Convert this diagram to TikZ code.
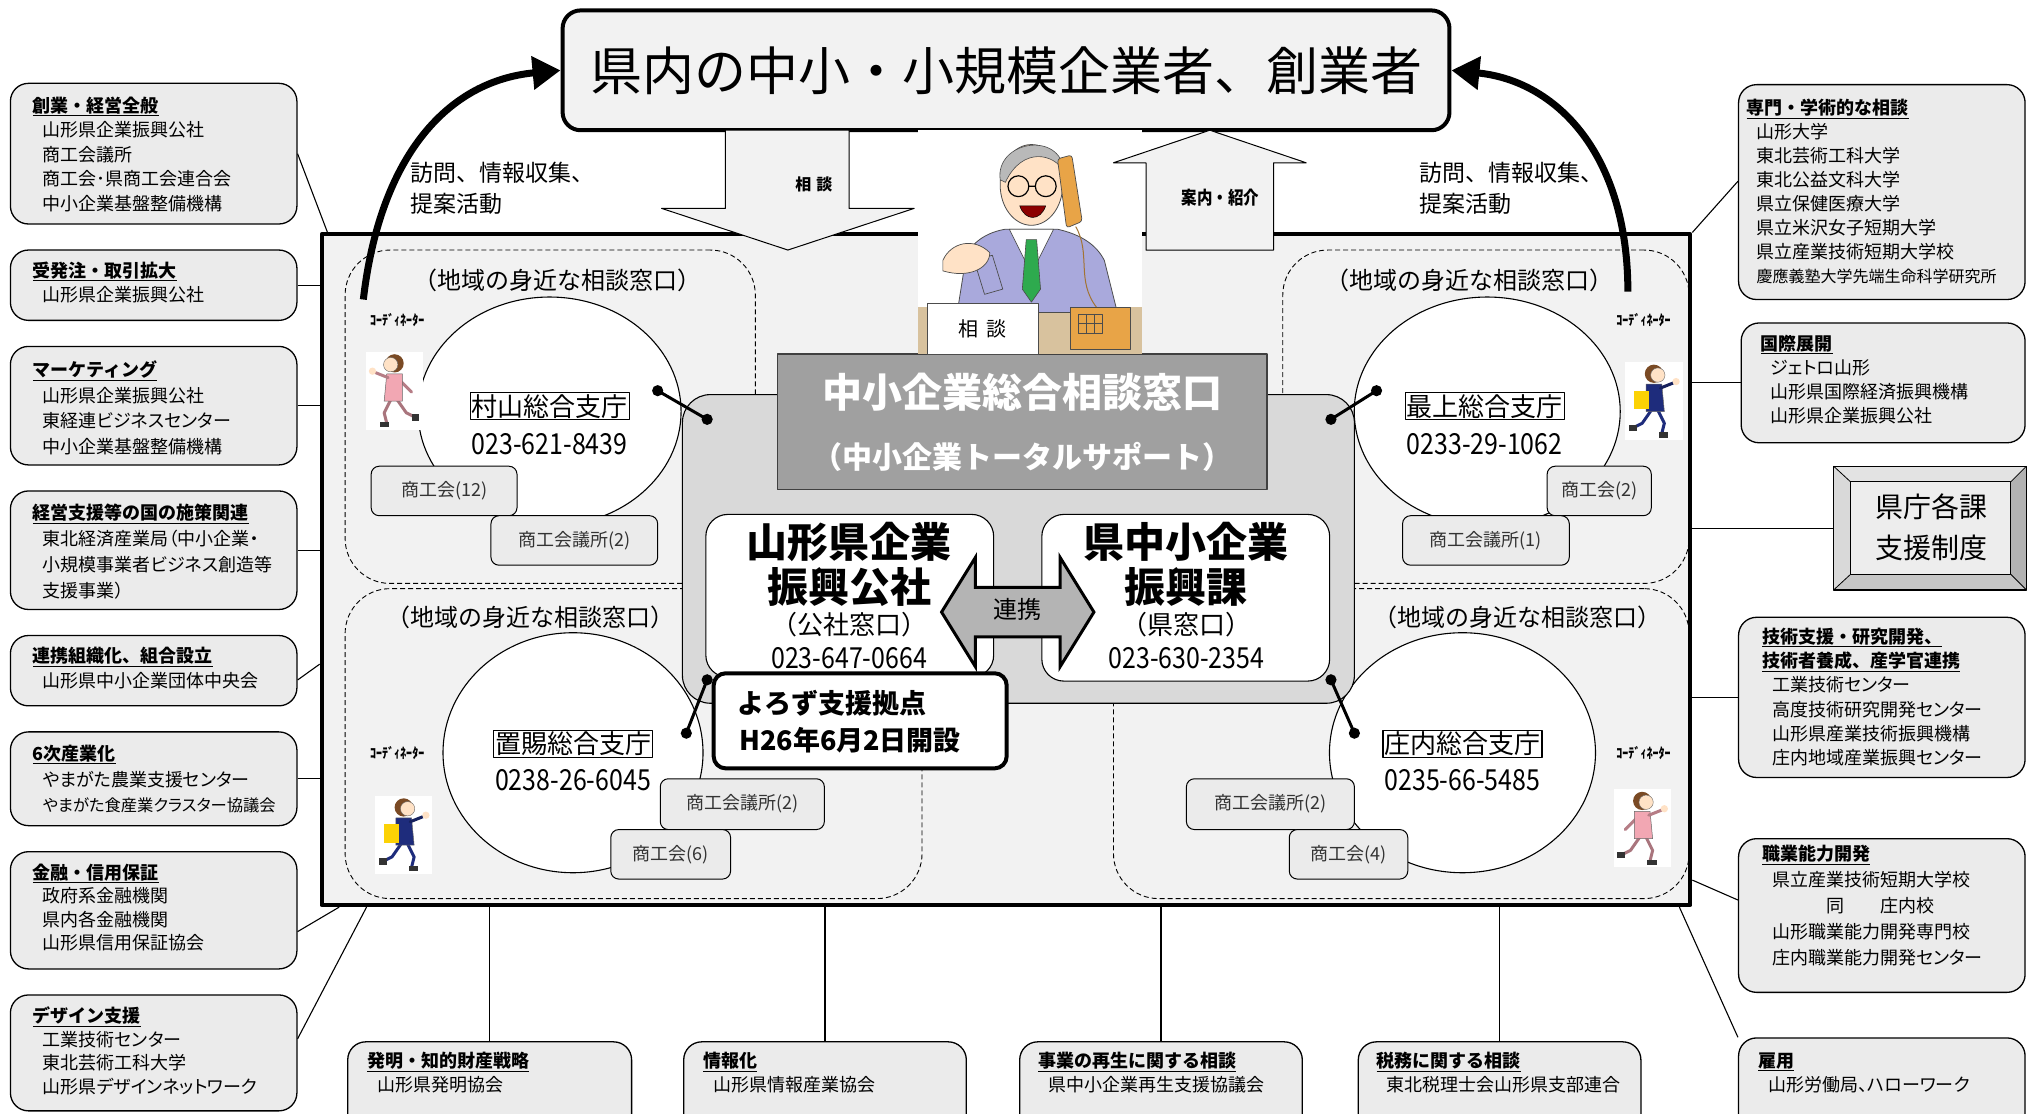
\documentclass[tikz,border=0pt]{standalone}
\usepackage{fontspec}
\setmainfont{Noto Sans CJK JP}
\newfontfamily\jpp{Noto Sans CJK JP}[RawFeature=+palt]
\newfontfamily\jpc{Noto Sans CJK JP}[FakeStretch=0.86]
\usetikzlibrary{fit,calc,arrows.meta,shapes.geometric}
\definecolor{boxgray}{HTML}{EBEBEB}
\definecolor{framegray}{HTML}{F2F2F2}
\definecolor{hubgray}{HTML}{D9D9D9}
\definecolor{deskgray}{HTML}{A0A0A0}
\definecolor{linkgray}{HTML}{B4B4B4}
\definecolor{skin}{HTML}{FFE2C6}
\definecolor{suitblue}{HTML}{A9A9DC}
\definecolor{tiegreen}{HTML}{2EAA4E}
\definecolor{handset}{HTML}{E8A447}
\definecolor{desktan}{HTML}{D8C29E}
\definecolor{pinksuit}{HTML}{F2A7B3}
\definecolor{navysuit}{HTML}{1E2C7C}
\definecolor{hairbrown}{HTML}{7A4A24}
\newcommand\fsz[2]{\fontsize{#1pt}{#2pt}\selectfont}
\newcommand\ind{\hspace*{10pt}}
\newcommand\hd[1]{\underline{{\rmfamily\bfseries #1}}}
% small running coordinator figure: x, y, facing, suit, hair, legs
\newcommand\runner[6]{%
 \begin{scope}[shift={(#1,#2)}]
  \fill[white] (0,0) rectangle (44,60);
  \begin{scope}[shift={(22,0)}, xscale=#3]
   \draw[#4!75!black, line width=3pt, line cap=round] (-3,21) -- (-13,31);
   \draw[#6, line width=3pt, line cap=round] (-2,37) -- (-9,47) -- (-15,50);
   \draw[#6, line width=3pt, line cap=round] (3,37) -- (8,47) -- (6,55);
   \fill[black!80] (-19,48) rectangle (-13,53);
   \fill[black!80] (4,54) rectangle (11,58);
   \filldraw[fill=#4, draw=black!60, line width=0.5pt] (-6,17) -- (6,17) -- (8,38) -- (-6,38) -- cycle;
   \draw[#4!75!black, line width=3pt, line cap=round] (5,20) -- (15,16);
   \fill[skin] (17,15) circle[radius=2.8];
   \fill[#5] (0,9) circle[radius=7];
   \filldraw[fill=skin, draw=black!60, line width=0.4pt] (3,10) circle[radius=5.5];
  \end{scope}
 \end{scope}}
\begin{document}
\begin{tikzpicture}[x=1.3023pt, y=-1.3023pt, line join=round,
  sidebox/.style={draw, line width=1.3pt, rounded corners=18pt, fill=boxgray, inner sep=0pt},
  sidetext/.style={anchor=north west, align=left, inner sep=0pt, font=\jpp\fsz{18}{24.5}},
  region/.style={draw, dash pattern=on 5pt off 3pt, line width=0.9pt, rounded corners=45pt, inner sep=0pt},
  ward/.style={ellipse, draw, fill=white, line width=1.1pt, inner sep=0pt},
  wardname/.style={draw, line width=1.1pt, inner sep=1.5pt, fill=white, font=\fsz{26}{28}},
  phone/.style={inner sep=0pt, font=\jpc\fsz{29}{30}},
  chip/.style={draw, line width=1pt, rounded corners=8pt, fill=boxgray, inner sep=0pt},
  chiptext/.style={inner sep=0pt, font=\fsz{18}{20}, text=black!80},
  link/.style={line width=1.1pt},
  dotlink/.style={line width=3pt},
  bigarrow/.style={draw, line width=1pt, fill=framegray},
  sweep/.style={line width=7pt, -{Triangle[length=28pt,width=32pt]}},
  coord/.style={inner sep=0pt, font=\jpc\bfseries\fsz{14}{14}},
  regionlabel/.style={inner sep=0pt, font=\fsz{24}{26}}]

\useasboundingbox (0,0) rectangle (1568,855);
\fill[white] (0,0) rectangle (1568,855);

% ---------- main frame ----------
\node[fit={(247,180) (1298,695)}, draw, line width=4pt, fill=framegray, inner sep=0pt] (frame) {};

% ---------- four regional areas ----------
\node[region, fit={(265,192) (580,448)}] (rgA) {};
\node[region, fit={(265,452) (708,690)}] (rgB) {};
\node[region, fit={(985,192) (1297,448)}] (rgC) {};
\node[region, fit={(855,452) (1297,690)}] (rgD) {};
\node[regionlabel] (lbA) at (428,215) {（地域の身近な相談窓口）};
\node[regionlabel] (lbC) at (1128,215) {（地域の身近な相談窓口）};
\node[regionlabel] (lbB) at (407,474) {（地域の身近な相談窓口）};
\node[regionlabel] (lbD) at (1165,474) {（地域の身近な相談窓口）};

% ---------- branch offices ----------
\node[ward, minimum width=263pt, minimum height=229pt] (wMura) at (422,316) {};
\node[ward, minimum width=266pt, minimum height=229pt] (wMoga) at (1142,316) {};
\node[ward, minimum width=260pt, minimum height=240pt] (wOki) at (440,578) {};
\node[ward, minimum width=266pt, minimum height=240pt] (wSho) at (1123,578) {};

\node[wardname] (nMura) at (422,312) {村山総合支庁};
\node[phone] (pMura) at (422,341) {023-621-8439};
\node[wardname] (nMoga) at (1140,312) {最上総合支庁};
\node[phone] (pMoga) at (1140,341) {0233-29-1062};
\node[wardname] (nOki) at (440,571) {置賜総合支庁};
\node[phone] (pOki) at (440,599) {0238-26-6045};
\node[wardname] (nSho) at (1123,571) {庄内総合支庁};
\node[phone] (pSho) at (1123,599) {0235-66-5485};

\foreach \nm/\ax/\ay/\bx/\by/\txt in {
  c1/285/358/397/396/商工会(12),
  c2/377/396/505/434/商工会議所(2),
  c3/1188/358/1268/396/商工会(2),
  c4/1077/396/1205/434/商工会議所(1),
  c5/507/598/633/637/商工会議所(2),
  c6/469/637/561/675/商工会(6),
  c7/911/598/1040/637/商工会議所(2),
  c8/990/637/1081/675/商工会(4)} {
  \node[chip, fit={(\ax,\ay) (\bx,\by)}] (\nm) {};
  \node[chiptext] at (\nm.center) {\txt};
}

% ---------- coordinators ----------
\node[coord] (coA) at (305,246) {ｺｰﾃﾞｨﾈｰﾀｰ};
\node[coord] (coC) at (1262,246) {ｺｰﾃﾞｨﾈｰﾀｰ};
\node[coord] (coB) at (305,578) {ｺｰﾃﾞｨﾈｰﾀｰ};
\node[coord] (coD) at (1262,578) {ｺｰﾃﾞｨﾈｰﾀｰ};
\runner{281}{270}{-1}{pinksuit}{hairbrown}{pinksuit!70!black}
\runner{1248}{278}{1}{navysuit}{hairbrown}{navysuit}
\fill[yellow!70!orange] (1255,300) rectangle (1266,314);
\runner{288}{611}{1}{navysuit}{hairbrown}{navysuit}
\fill[yellow!70!orange] (295,633) rectangle (306,647);
\runner{1239}{606}{1}{pinksuit}{hairbrown}{pinksuit!70!black}

% ---------- central hub ----------
\node[fit={(524,303) (1040,540)}, draw, line width=1.1pt, fill=hubgray, rounded corners=28pt, inner sep=0pt] (hub) {};
\node[fit={(597,272) (973,376)}, draw=black!75, line width=1.5pt, fill=deskgray, inner sep=0pt] (desk) {};
\node[inner sep=0pt, text=white, font=\bfseries\fsz{40}{42}] (deskA) at (785,301) {中小企業総合相談窓口};
\node[inner sep=0pt, text=white, font=\bfseries\fsz{30}{32}] (deskB) at (785,351) {（中小企業トータルサポート）};

\node[fit={(542,395) (763,520)}, draw, line width=1.1pt, fill=white, rounded corners=22pt, inner sep=0pt] (kosha) {};
\node[fit={(800,395) (1021,523)}, draw, line width=1.1pt, fill=white, rounded corners=22pt, inner sep=0pt] (kenka) {};
\node[inner sep=0pt, font=\bfseries\fsz{41}{42}] at (652,416) {山形県企業};
\node[inner sep=0pt, font=\bfseries\fsz{41}{42}] at (652,451) {振興公社};
\node[inner sep=0pt, font=\fsz{26}{28}] at (652,480) {（公社窓口）};
\node[phone] at (652,505) {023-647-0664};
\node[inner sep=0pt, font=\bfseries\fsz{41}{42}] at (911,416) {県中小企業};
\node[inner sep=0pt, font=\bfseries\fsz{41}{42}] at (911,451) {振興課};
\node[inner sep=0pt, font=\fsz{26}{28}] at (911,480) {（県窓口）};
\node[phone] at (911,505) {023-630-2354};

% cooperation double arrow
\filldraw[fill=linkgray, draw=black, line width=3pt, line join=miter]
  (723,470) -- (749,428) -- (749,451) -- (814,451) -- (814,428) -- (840,470)
  -- (814,512) -- (814,489) -- (749,489) -- (749,512) -- cycle;
\node[inner sep=0pt, font=\fsz{24}{26}] (renkei) at (781,468) {連携};

% yorozu support base
\node[fit={(548,517) (773,590)}, draw, line width=4pt, fill=white, rounded corners=12pt, inner sep=0pt] (yorozu) {};
\node[anchor=north west, align=left, inner sep=0pt, font=\bfseries\fsz{27}{36.5}] (yorozuT) at (566,530) {よろず支援拠点\\\hspace*{2pt}H26年6月2日開設};

% dotted links between hub and branch offices
\coordinate (dA1) at (505,300); \coordinate (dA2) at (543,322);
\coordinate (dC1) at (1057,300); \coordinate (dC2) at (1022,322);
\coordinate (dB1) at (527,563); \coordinate (dB2) at (543,522);
\coordinate (dD1) at (1040,563); \coordinate (dD2) at (1022,522);
\foreach \a/\b in {dA1/dA2, dC1/dC2, dB1/dB2, dD1/dD2} {
  \draw[dotlink] (\a) -- (\b);
  \fill (\a) circle[radius=4.3];
  \fill (\b) circle[radius=4.3];
}

% ---------- top: enterprises ----------
\node[fit={(432,8) (1113,100)}, draw, line width=4pt, fill=framegray, rounded corners=18pt, inner sep=0pt] (T) {};
\node[inner sep=0pt, font=\fsz{52}{54}] (Ttext) at (T.center) {県内の中小・小規模企業者、創業者};

% counsellor at the desk
\fill[white] (705,100) rectangle (877,272);
\fill[desktan] (705,236) rectangle (877,272);
\filldraw[fill=suitblue, draw=black!70, line width=0.8pt] (735,240) -- (742,196) .. controls (748,184) and (760,178) .. (772,176) -- (812,176) .. controls (830,180) and (842,188) .. (848,200) -- (858,240) -- cycle;
\filldraw[fill=white, draw=black!70, line width=0.6pt] (775,176) -- (792,210) -- (809,176) -- cycle;
\filldraw[fill=tiegreen, draw=black!70, line width=0.6pt] (788,184) -- (796,184) -- (799,222) -- (792,232) -- (785,222) -- cycle;
\filldraw[fill=skin, draw=black!70, line width=0.8pt] (792,142) ellipse [x radius=24, y radius=31];
\filldraw[fill=gray!55, draw=black!70, line width=0.6pt] (768,138) .. controls (764,108) and (815,100) .. (817,132) .. controls (810,118) and (785,112) .. (772,140) -- cycle;
\draw[line width=1.2pt] (782,143) circle[radius=8] (803,143) circle[radius=8] (790,143) -- (795,143);
\filldraw[fill=red!55!black, draw=black, line width=0.5pt] (783,158) .. controls (787,170) and (799,170) .. (803,158) -- cycle;
% gesturing hand
\filldraw[fill=suitblue, draw=black!70, line width=0.7pt] (748,200) -- (762,196) -- (770,222) -- (756,226) -- cycle;
\filldraw[fill=skin, draw=black!70, line width=0.7pt] (724,200) .. controls (730,186) and (748,182) .. (760,194) .. controls (760,206) and (744,214) .. (724,208) -- cycle;
\filldraw[fill=handset, draw=black!70, line width=0.7pt, rounded corners=3pt] (812,122) -- (823,119) -- (831,170) -- (819,175) -- cycle;
\draw[handset!70!black, line width=1pt] (826,174) .. controls (838,195) and (826,215) .. (842,236);
\node[fit={(712,233) (797,272)}, draw=black!70, line width=0.8pt, fill=white, inner sep=0pt] (sign) {};
\node[inner sep=0pt, font=\fsz{20}{22}] at (sign.center) {相\hspace{8pt}談};
\filldraw[fill=handset, draw=black!70, line width=0.7pt] (822,236) rectangle (868,268);
\draw[black!70, line width=0.5pt] (828,241) rectangle (846,256) (834,241) -- (834,256) (840,241) -- (840,256) (828,248) -- (846,248);

% consult / guidance arrows
\filldraw[bigarrow] (557,100) -- (652,100) -- (652,160) -- (702,160) -- (605,192) -- (508,160) -- (557,160) -- cycle;
\node[inner sep=0pt, font=\bfseries\fsz{16}{18}] (soudan) at (625,142) {相\hspace{5pt}談};
\filldraw[bigarrow] (880,192) -- (978,192) -- (978,125) -- (1003,125) -- (929,100) -- (855,125) -- (880,125) -- cycle;
\node[inner sep=0pt, font=\jpc\bfseries\fsz{18}{18}] (annai) at (937,152) {案内・紹介};

% outreach arrows
\coordinate (swL) at (279,230);
\coordinate (swR) at (1250,224);
\draw[sweep] (swL) .. controls (292,118) and (345,62) .. (T.west);
\draw[sweep] (swR) .. controls (1250,118) and (1195,62) .. (T.east);
\node[anchor=north west, align=left, inner sep=0pt, font=\fsz{23}{31}] (visitL) at (315,124) {訪問、情報収集、\\提案活動};
\node[anchor=north west, align=left, inner sep=0pt, font=\fsz{23}{31}] (visitR) at (1090,124) {訪問、情報収集、\\提案活動};

% ---------- left column ----------
\node[sidebox, fit={(8,64) (228,172)}] (sgA) {};
\node[sidetext] at (25,74) {\hd{創業・経営全般}\\\ind 山形県企業振興公社\\\ind 商工会議所\\\ind 商工会･県商工会連合会\\\ind 中小企業基盤整備機構};
\node[sidebox, fit={(8,192) (228,246)}] (sgB) {};
\node[sidetext] at (25,201) {\hd{受発注・取引拡大}\\\ind 山形県企業振興公社};
\node[sidebox, fit={(8,266) (228,357)}] (sgC) {};
\node[sidetext, font=\jpp\fsz{18}{25.5}] at (25,277) {\hd{マーケティング}\\\ind 山形県企業振興公社\\\ind 東経連ビジネスセンター\\\ind 中小企業基盤整備機構};
\node[sidebox, fit={(8,377) (228,468)}] (sgD) {};
\node[sidetext, font=\jpp\fsz{18}{26}] at (25,387) {\hd{経営支援等の国の施策関連}\\\ind 東北経済産業局（中小企業・\\\ind 小規模事業者ビジネス創造等\\\ind 支援事業）};
\node[sidebox, fit={(8,488) (228,542)}] (sgE) {};
\node[sidetext] at (25,497) {\hd{連携組織化、組合設立}\\\ind 山形県中小企業団体中央会};
\node[sidebox, fit={(8,562) (228,634)}] (sgF) {};
\node[sidetext, font=\jpp\fsz{18}{25.5}] at (25,572) {\hd{6次産業化}\\\ind やまがた農業支援センター\\\ind{\fsz{16.3}{25.5}やまがた食産業クラスター協議会}};
\node[sidebox, fit={(8,654) (228,744)}] (sgG) {};
\node[sidetext, font=\jpp\fsz{18}{23.5}] at (25,663) {\hd{金融・信用保証}\\\ind 政府系金融機関\\\ind 県内各金融機関\\\ind 山形県信用保証協会};
\node[sidebox, fit={(8,764) (228,853)}] (sgH) {};
\node[sidetext, font=\jpp\fsz{18}{23.5}] at (25,773) {\hd{デザイン支援}\\\ind 工業技術センター\\\ind 東北芸術工科大学\\\ind 山形県デザインネットワーク};

\draw[link] (sgA.east) -- ($(frame.north west)+(6,0)$);
\draw[link] (sgB.east) -- (sgB.east -| frame.west);
\draw[link] (sgC.east) -- (sgC.east -| frame.west);
\draw[link] (sgD.east) -- (sgD.east -| frame.west);
\draw[link] ($(sgE.north east)!0.63!(sgE.south east)$) -- ($(sgE.east -| frame.west)+(0,-5)$);
\draw[link] (sgF.east) -- (sgF.east -| frame.west);
\draw[link] ($(sgG.north east)!0.68!(sgG.south east)$) -- ($(frame.south west)+(15,0)$);
\draw[link] ($(sgH.north east)!0.38!(sgH.south east)$) -- ($(frame.south west)+(36,0)$);

% ---------- right column ----------
\node[sidebox, fit={(1335,65) (1555,230)}] (sgI) {};
\node[sidetext, font=\jpp\fsz{18}{24}] at (1341,76) {\hd{専門・学術的な相談}\\\ind 山形大学\\\ind 東北芸術工科大学\\\ind 東北公益文科大学\\\ind 県立保健医療大学\\\ind 県立米沢女子短期大学\\\ind 県立産業技術短期大学校\\\ind{\fsz{16}{24}慶應義塾大学先端生命科学研究所}};
\node[sidebox, fit={(1337,248) (1555,340)}] (sgJ) {};
\node[sidetext, font=\jpp\fsz{18}{24}] at (1352,257) {\hd{国際展開}\\\ind ジェトロ山形\\\ind 山形県国際経済振興機構\\\ind 山形県企業振興公社};

\fill[gray!22] (1408,358) -- (1556,358) -- (1544,370) -- (1421,370) -- cycle;
\fill[gray!30] (1408,358) -- (1421,370) -- (1421,441) -- (1408,453) -- cycle;
\fill[gray!60] (1556,358) -- (1556,453) -- (1544,441) -- (1544,370) -- cycle;
\fill[gray!45] (1408,453) -- (1556,453) -- (1544,441) -- (1421,441) -- cycle;
\filldraw[fill=gray!14, draw=black, line width=1pt] (1421,370) rectangle (1544,441);
\draw[line width=0.8pt] (1408,358) -- (1421,370) (1556,358) -- (1544,370) (1408,453) -- (1421,441) (1556,453) -- (1544,441);
\node[fit={(1408,358) (1556,453)}, draw, line width=1.3pt, inner sep=0pt] (kencho) {};
\node[align=center, inner sep=0pt, font=\fsz{28}{41}] at (1483,405) {県庁各課\\支援制度};

\node[sidebox, fit={(1335,474) (1555,597)}] (sgK) {};
\node[sidetext, font=\jpp\fsz{18}{24.3}] at (1353,482) {\hd{技術支援・研究開発、}\\\hd{技術者養成、産学官連携}\\\ind 工業技術センター\\\ind 高度技術研究開発センター\\\ind 山形県産業技術振興機構\\\ind 庄内地域産業振興センター};
\node[sidebox, fit={(1335,644) (1555,762)}] (sgL) {};
\node[sidetext, font=\jpp\fsz{18}{26}] at (1353,649) {\hd{職業能力開発}\\\ind 県立産業技術短期大学校\\\ind\hspace*{3em}同\hspace*{2em}庄内校\\\ind 山形職業能力開発専門校\\\ind 庄内職業能力開発センター};
\node[sidebox, fit={(1335,797) (1555,880)}] (sgM) {};
\node[sidetext, font=\jpp\fsz{18}{24}] at (1350,808) {\hd{雇用}\\\ind 山形労働局、ハローワーク};

\draw[link] (frame.north east) -- ($(sgI.north west)!0.45!(sgI.south west)$);
\draw[link] (sgJ.west) -- (sgJ.west -| frame.east);
\draw[link] (kencho.west) -- (kencho.west -| frame.east);
\draw[link] (sgK.west) -- (sgK.west -| frame.east);
\draw[link] ($(sgL.north west)!0.4!(sgL.south west)$) -- ($(frame.north east)!0.96!(frame.south east)$);
\draw[link] (sgM.north west) -- ($(frame.south east)+(-10,0)$);

% ---------- bottom row ----------
\node[sidebox, fit={(267,800) (485,880)}] (sgN) {};
\node[sidetext, font=\jpp\fsz{18}{24}] at (282,808) {\hd{発明・知的財産戦略}\\\ind 山形県発明協会};
\node[sidebox, fit={(525,800) (742,880)}] (sgO) {};
\node[sidetext, font=\jpp\fsz{18}{24}] at (540,808) {\hd{情報化}\\\ind 山形県情報産業協会};
\node[sidebox, fit={(783,800) (1000,880)}] (sgP) {};
\node[sidetext, font=\jpp\fsz{18}{24}] at (797,808) {\hd{事業の再生に関する相談}\\\ind 県中小企業再生支援協議会};
\node[sidebox, fit={(1043,800) (1260,880)}] (sgQ) {};
\node[sidetext, font=\jpp\fsz{18}{24}] at (1057,808) {\hd{税務に関する相談}\\\ind 東北税理士会山形県支部連合};

\draw[link] (sgN.north) -- (sgN.north |- frame.south);
\draw[link] (sgO.north) -- (sgO.north |- frame.south);
\draw[link] (sgP.north) -- (sgP.north |- frame.south);
\draw[link] (sgQ.north) -- (sgQ.north |- frame.south);

\end{tikzpicture}
\end{document}
